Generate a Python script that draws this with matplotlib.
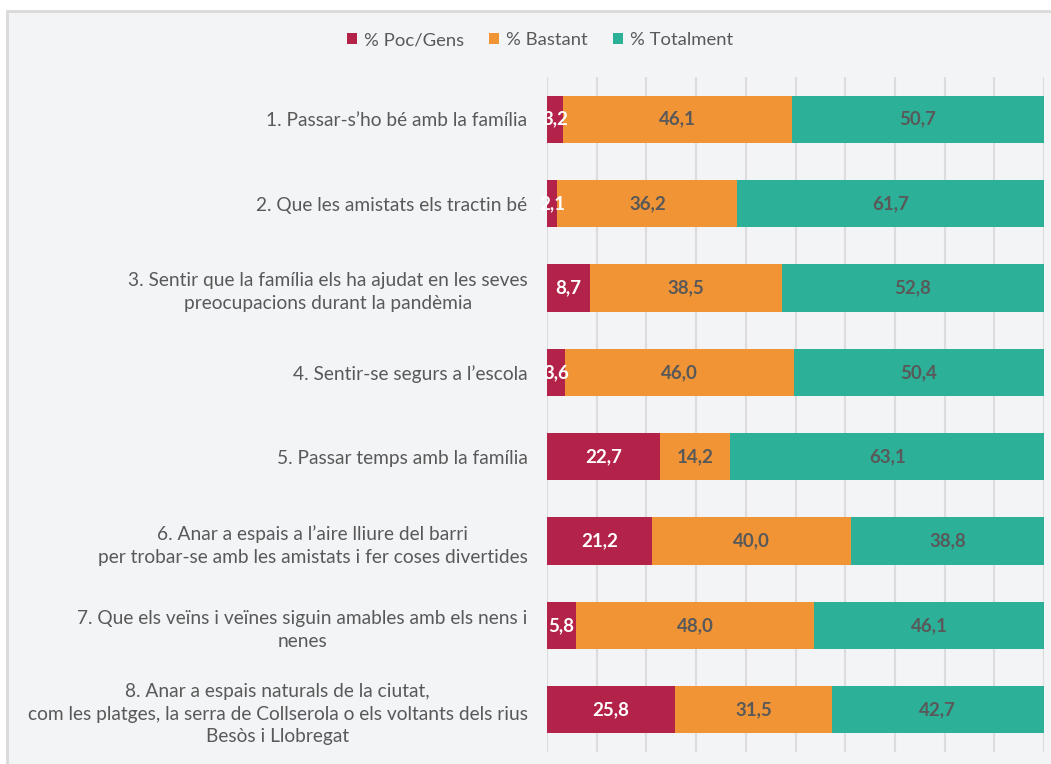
import matplotlib.pyplot as plt
from matplotlib.patches import Rectangle

plt.rcParams['font.family'] = ['Lato', 'DejaVu Sans']

categories = [
    "1. Passar-s\u2019ho bé amb la família",
    "2. Que les amistats els tractin bé",
    "3. Sentir que la família els ha ajudat en les seves\npreocupacions durant la pandèmia",
    "4. Sentir-se segurs a l\u2019escola",
    "5. Passar temps amb la família",
    "6. Anar a espais a l\u2019aire lliure del barri\nper trobar-se amb les amistats i fer coses divertides",
    "7. Que els veïns i veïnes siguin amables amb els nens i\nnenes",
    "8. Anar a espais naturals de la ciutat,\ncom les platges, la serra de Collserola o els voltants dels rius\nBesòs i Llobregat",
]
poc_gens = [3.2, 2.1, 8.7, 3.6, 22.7, 21.2, 5.8, 25.8]
bastant = [46.1, 36.2, 38.5, 46.0, 14.2, 40.0, 48.0, 31.5]
totalment = [50.7, 61.7, 52.8, 50.4, 63.1, 38.8, 46.1, 42.7]
series_names = ["% Poc/Gens", "% Bastant", "% Totalment"]

colors = ["#B32248", "#F09436", "#2CB098"]
text_colors = ["white", "#595959", "#595959"]

fig = plt.figure(figsize=(10.51, 7.64), dpi=100)
fig.patch.set_facecolor("white")
# background panel
fig.patches.append(Rectangle((7 / 1051, -0.01), 1.0, 1 - 11 / 764 + 0.01,
                             transform=fig.transFigure, facecolor="#F3F4F6",
                             edgecolor="#D9D9D9", linewidth=2, zorder=-10))

ax = fig.add_axes([547 / 1051, 1 - 752 / 764, 497 / 1051, (752 - 77) / 764])
ax.set_facecolor("none")

ypos = list(range(len(categories)))
left = [0] * len(categories)
for vals, name, col, tcol in zip([poc_gens, bastant, totalment], series_names, colors, text_colors):
    bars = ax.barh(ypos, vals, left=left, height=0.56, color=col, label=name, zorder=3)
    for b, v in zip(bars, vals):
        ax.text(b.get_x() + b.get_width() / 2, b.get_y() + b.get_height() / 2,
                f"{v:.1f}".replace(".", ","), ha="center", va="center",
                color=tcol, fontsize=13.5, fontweight="bold", zorder=4)
    left = [l + v for l, v in zip(left, vals)]

ax.set_xlim(0, 100)
ax.set_ylim(len(categories) - 0.5, -0.5)
ax.set_xticks(range(0, 101, 10))
ax.set_xticklabels([])
ax.grid(axis="x", color="#DCDCDC", linewidth=1.5, zorder=0)
ax.tick_params(axis="both", length=0)
ax.set_yticks(ypos)
ax.set_yticklabels(categories, fontsize=13.8, color="#595959")
for lab in ax.get_yticklabels():
    lab.set_multialignment("center")
    lab.set_linespacing(1.4)
ax.tick_params(axis="y", pad=14)
for s in ax.spines.values():
    s.set_visible(False)

fig.legend(loc="center", bbox_to_anchor=(540 / 1051, 1 - 40 / 764), ncol=3,
           frameon=False, fontsize=13.3, labelcolor="#595959",
           handlelength=0.55, handleheight=0.55, handletextpad=0.38, columnspacing=1.35)

fig.savefig("out.png", dpi=100)
